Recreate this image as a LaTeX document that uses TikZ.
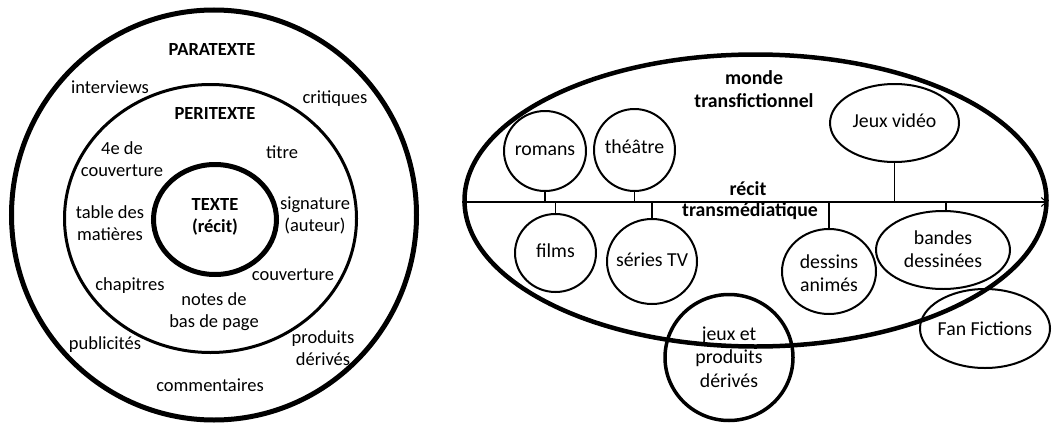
\documentclass[tikz,border=0pt]{standalone}
\usepackage{fontspec}
\setmainfont{Carlito}
\usetikzlibrary{shapes.geometric,arrows.meta}
\begin{document}
\begin{tikzpicture}[x=1pt,y=-1pt,
  every node/.style={inner sep=0pt, outer sep=0pt},
  lbl/.style={font=\fontsize{18.5}{22}\selectfont, align=center},
  lblb/.style={font=\fontsize{18.5}{22}\selectfont\bfseries, align=center},
  rlbl/.style={font=\fontsize{19.8}{23.5}\selectfont, align=center},
  rlblb/.style={font=\fontsize{19.8}{23.5}\selectfont\bfseries, align=center},
  ring/.style={draw, ellipse, line width=#1},
  medium/.style={draw, ellipse, line width=2pt},
  link/.style={line width=1.5pt}
]
\useasboundingbox (0,0) rectangle (1052,423);

% ---------- left: paratexte ----------
\node[ring=5pt, minimum width=405pt, minimum height=410pt] (para) at (214,215) {};
\node[ring=3pt, minimum width=292pt, minimum height=268pt] (peri) at (210.5,218.5) {};
\node[ring=5pt, minimum width=123pt, minimum height=110pt] (texte) at (215,219.5) {};

\node[lblb] (paraT) at (212,50) {PARATEXTE};
\node[lbl] (interviews) at (110,87) {interviews};
\node[lbl] (critiques) at (335,99) {critiques};
\node[lblb] (periT) at (215,114) {PERITEXTE};
\node[lbl] (quatre) at (122,159) {4e de\\couverture};
\node[lbl] (titre) at (282,152) {titre};
\node[lbl] (table) at (110,223) {table des\\matières};
\node[lblb] (texteT) at (215,217) {TEXTE\\(récit)};
\node[lbl] (signature) at (315,215) {signature\\(auteur)};
\node[lbl] (couverture) at (293,275) {couverture};
\node[lbl] (chapitres) at (130,286) {chapitres};
\node[lbl] (notes) at (214,312) {notes de\\bas de page};
\node[lbl] (produits) at (323,348) {produits\\dérivés};
\node[lbl] (publicites) at (105,345) {publicités};
\node[lbl] (commentaires) at (210,385) {commentaires};

% ---------- right: monde transfictionnel ----------
\node[ring=4.5pt, minimum width=582pt, minimum height=292pt] (monde) at (755.5,200.5) {};
\node[rlblb] (mondeT) at (754,89) {monde\\transfictionnel};

\coordinate (axisL) at (462,202);
\coordinate (axisR) at (1047,202);
\draw[link, -{Straight Barb[length=5pt,width=9pt,line width=1pt]}] (axisL) -- (axisR);
\node[rlblb] (recit) at (748,189) {récit};
\node[rlblb] (transmedia) at (750,211) {transmédiatique};

\node[medium, minimum width=82pt, minimum height=80pt] (romans) at (545,151) {};
\node[rlbl] (romansT) at (545,151) {romans};
\node[medium, minimum width=81pt, minimum height=82pt] (theatre) at (634.5,150) {};
\node[rlbl] (theatreT) at (634.5,147) {théâtre};
\node[medium, minimum width=129pt, minimum height=78pt] (jv) at (894.5,123) {};
\node[rlbl] (jvT) at (894.5,121) {Jeux vidéo};
\node[medium, minimum width=81pt, minimum height=78pt] (films) at (555.5,253) {};
\node[rlbl] (filmsT) at (555.5,251) {films};
\node[medium, minimum width=90pt, minimum height=85pt] (series) at (652,261.5) {};
\node[rlbl] (seriesT) at (652,260) {séries TV};
\node[medium, minimum width=94pt, minimum height=85pt] (dessins) at (829,271.5) {};
\node[rlbl] (dessinsT) at (829,273) {dessins\\animés};
\node[medium, minimum width=134pt, minimum height=78pt] (bandes) at (943,250) {};
\node[rlbl] (bandesT) at (943,249) {bandes\\dessinées};
\node[medium, minimum width=130pt, minimum height=79pt] (fan) at (985,328.5) {};
\node[rlbl] (fanT) at (985,329) {Fan Fictions};
\node[ring=3.5pt, minimum width=128pt, minimum height=126pt] (jeux) at (729,357.5) {};
\node[rlbl] (jeuxT) at (729,357) {jeux et\\produits\\dérivés};

\draw[link] (romans.south) -- (romans.south |- axisL);
\draw[link] (theatre.south) -- (theatre.south |- axisL);
\draw[link] (jv.south) -- (jv.south |- axisL);
\draw[link] (films.north) -- (films.north |- axisL);
\draw[link] (series.north) -- (series.north |- axisL);
\draw[link] (dessins.north) -- (dessins.north |- axisL);
\draw[link] ([xshift=3pt]bandes.north) -- ([xshift=3pt]bandes.north |- axisL);
\end{tikzpicture}
\end{document}
